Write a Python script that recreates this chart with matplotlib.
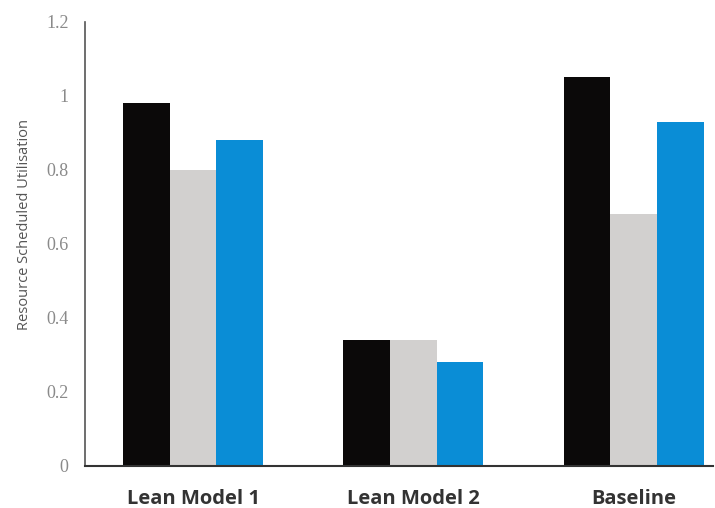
import matplotlib
matplotlib.use("Agg")
import matplotlib.pyplot as plt
import numpy as np

categories = ["Lean Model 1", "Lean Model 2", "Baseline"]
series_black = [0.98, 0.34, 1.05]
series_gray = [0.80, 0.34, 0.68]
series_blue = [0.88, 0.28, 0.93]
yticks = [0, 0.2, 0.4, 0.6, 0.8, 1.0, 1.2]
ytick_labels = ["0", "0.2", "0.4", "0.6", "0.8", "1", "1.2"]

plt.rcParams['font.family'] = ['Open Sans', 'DejaVu Sans']

fig = plt.figure(figsize=(7.15, 5.08), dpi=100)
ax = fig.add_axes([0.119, 0.083, 0.878, 0.874])

x = np.arange(len(categories))
w = 0.212
ax.bar(x - w, series_black, w, color="#0b0909")
ax.bar(x, series_gray, w, color="#d2d0cf")
ax.bar(x + w, series_blue, w, color="#0a8dd6")

ax.set_xlim(-0.49, 2.36)
ax.set_ylim(0, 1.2)
ax.set_yticks(yticks)
ax.set_yticklabels(ytick_labels, color="#8a8a8a", fontsize=13,
                   family=["Liberation Serif", "DejaVu Serif"])
ax.set_xticks(x)
ax.set_xticklabels(categories, fontsize=14.5, fontweight="bold", color="#333333")
ax.tick_params(axis="both", length=0)
ax.tick_params(axis="x", pad=17)
ax.tick_params(axis="y", pad=12)
ax.set_ylabel("Resource Scheduled Utilisation", fontsize=10.5, color="#555555")
ax.yaxis.set_label_coords(-0.085, 0.543)

for s in ["top", "right"]:
    ax.spines[s].set_visible(False)
ax.spines["left"].set_color("#555555")
ax.spines["bottom"].set_color("#333333")
ax.spines["left"].set_linewidth(1.2)
ax.spines["bottom"].set_linewidth(1.5)

fig.savefig("out.png", dpi=100)
